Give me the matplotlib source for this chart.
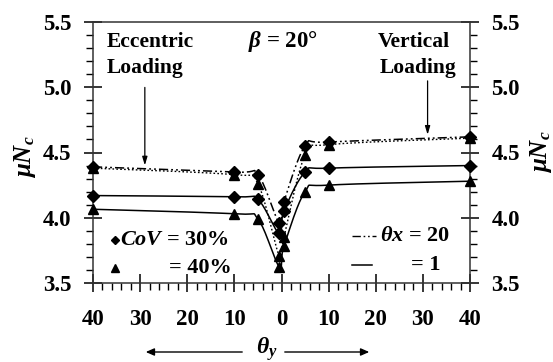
import numpy as np
import matplotlib
matplotlib.use("Agg")
import matplotlib.pyplot as plt
from matplotlib.ticker import MultipleLocator, FuncFormatter
from matplotlib.lines import Line2D

# ---- data ----
theta = [-40, -10, -5, -0.5, 0.5, 5, 10, 40]
cov30_tx20 = [4.39, 4.35, 4.33, 3.96, 4.12, 4.55, 4.58, 4.62]
cov40_tx20 = [4.38, 4.33, 4.26, 3.71, 3.85, 4.48, 4.56, 4.61]
cov30_tx1 = [4.17, 4.16, 4.14, 3.88, 4.05, 4.35, 4.38, 4.40]
cov40_tx1 = [4.065, 4.03, 3.99, 3.625, 3.78, 4.20, 4.25, 4.28]
xticks = [-40, -30, -20, -10, 0, 10, 20, 30, 40]
yticks = [3.5, 4.0, 4.5, 5.0, 5.5]

plt.rcParams['font.family'] = ['Liberation Serif', 'DejaVu Serif']
plt.rcParams['font.weight'] = 'bold'
plt.rcParams['mathtext.fontset'] = 'custom'
plt.rcParams['mathtext.it'] = 'Liberation Serif:bold:italic'
plt.rcParams['mathtext.rm'] = 'Liberation Serif:bold'
plt.rcParams['mathtext.bf'] = 'Liberation Serif:bold'


def smooth(x, y, n=30):
    P = np.column_stack([x, y]).astype(float)
    m = len(P)
    out = []
    for i in range(m - 1):
        p0 = P[i - 1] if i > 0 else P[i]
        p1 = P[i]
        p2 = P[i + 1]
        p3 = P[i + 2] if i + 2 < m else P[i + 1]
        c1 = p1 + (p2 - p0) / 6.0
        c2 = p2 - (p3 - p1) / 6.0
        t = np.linspace(0, 1, n)[:, None]
        seg = ((1 - t) ** 3) * p1 + 3 * ((1 - t) ** 2) * t * c1 + 3 * (1 - t) * t ** 2 * c2 + t ** 3 * p2
        out.append(seg if i == 0 else seg[1:])
    s = np.vstack(out)
    return s[:, 0], s[:, 1]


fig = plt.figure(figsize=(5.53, 3.62), dpi=100)
ax = fig.add_axes([93 / 553, 1 - 283 / 362, 377 / 553, 261 / 362])

dd = (0, (6, 2, 1.2, 2, 1.2, 2))
dd2 = (0, (1.2, 1.6))
series = [
    (cov30_tx20, 'D', dd, 1.1),
    (cov40_tx20, '^', dd2, 1.0),
    (cov30_tx1, 'D', '-', 1.1),
    (cov40_tx1, '^', '-', 1.1),
]
for y, mk, ls, lw in series:
    sx, sy = smooth(theta, y)
    ax.plot(sx, sy, color='black', linestyle=ls, lw=lw)
    ax.plot(theta, y, linestyle='none', marker=mk, color='black',
            markersize=6.5 if mk == 'D' else 7.5, clip_on=False, zorder=5)

ax.set_xlim(-40, 40)
ax.set_ylim(3.5, 5.5)
ax.set_xticks(xticks)
ax.xaxis.set_major_formatter(FuncFormatter(lambda v, p: f"{abs(int(round(v)))}"))
ax.xaxis.set_minor_locator(MultipleLocator(2))
ax.set_yticks(yticks)
ax.yaxis.set_major_formatter(FuncFormatter(lambda v, p: f"{v:.1f}"))
ax.yaxis.set_minor_locator(MultipleLocator(0.1))
ax.tick_params(which='major', direction='inout', length=13, width=1.1,
               labelsize=16.5, right=True, labelright=True)
ax.tick_params(axis='x', which='major', pad=12)
ax.tick_params(axis='y', which='major', pad=9)
ax.tick_params(which='minor', direction='out', length=5, width=1.0, right=True)
for lab in ax.get_xticklabels() + ax.get_yticklabels():
    lab.set_fontweight('bold')
for sp in ax.spines.values():
    sp.set_linewidth(1.1)
    sp.set_color('#333333')

# axis labels
fig.text(25 / 553, 1 - 157 / 362, r'$\mu N_c$', rotation=90, ha='center', va='center', fontsize=18)
fig.text(541 / 553, 1 - 152 / 362, r'$\mu N_c$', rotation=90, ha='center', va='center', fontsize=18)

# bottom theta_y with arrows
fig.text(267 / 553, 1 - 349 / 362, r'$\theta_y$', ha='center', va='center', fontsize=17)
fig.patches.append(matplotlib.patches.FancyArrowPatch(
    (245 / 553, 1 - 352 / 362), (143 / 553, 1 - 352 / 362), transform=fig.transFigure,
    arrowstyle='-|>,head_length=5,head_width=2.2', color='black', lw=1.0))
fig.patches.append(matplotlib.patches.FancyArrowPatch(
    (282 / 553, 1 - 352 / 362), (372 / 553, 1 - 352 / 362), transform=fig.transFigure,
    arrowstyle='-|>,head_length=5,head_width=2.2', color='black', lw=1.0))

# annotations
ax.text(0.037, 0.925, 'Eccentric', transform=ax.transAxes, ha='left', va='center', fontsize=15.5)
ax.text(0.037, 0.825, 'Loading', transform=ax.transAxes, ha='left', va='center', fontsize=15.5)
ax.text(0.755, 0.925, 'Vertical', transform=ax.transAxes, ha='left', va='center', fontsize=15.5)
ax.text(0.76, 0.825, 'Loading', transform=ax.transAxes, ha='left', va='center', fontsize=15.5)
ax.text(0.503, 0.925, r'$\beta$ = 20°', transform=ax.transAxes, ha='center', va='center', fontsize=16.5)

ax.annotate('', xy=(-29, 4.38), xytext=(-29, 5.02),
            arrowprops=dict(arrowstyle='-|>,head_length=0.5,head_width=0.15', color='black', lw=0.9))
ax.annotate('', xy=(31, 4.615), xytext=(31, 5.07),
            arrowprops=dict(arrowstyle='-|>,head_length=0.5,head_width=0.15', color='black', lw=0.9))

# legends (drawn manually)
T = ax.transAxes
ax.add_line(Line2D([0.058], [0.165], marker='D', color='black', markersize=4.5, transform=T))
ax.text(0.072, 0.165, r'$CoV$ = 30%', transform=T, ha='left', va='center', fontsize=16)
ax.add_line(Line2D([0.058], [0.058], marker='^', color='black', markersize=6, transform=T))
ax.text(0.369, 0.058, '= 40%', transform=T, ha='right', va='center', fontsize=16)

ax.add_line(Line2D([0.687, 0.75], [0.18, 0.18], linestyle=dd, color='black', lw=1.0, transform=T))
ax.text(0.761, 0.18, r'$\theta x$ = 20', transform=T, ha='left', va='center', fontsize=16)
ax.add_line(Line2D([0.687, 0.74], [0.068, 0.068], linestyle='-', color='black', lw=1.1, transform=T))
ax.text(0.922, 0.068, '= 1', transform=T, ha='right', va='center', fontsize=16)

fig.savefig('out.png', dpi=100)
